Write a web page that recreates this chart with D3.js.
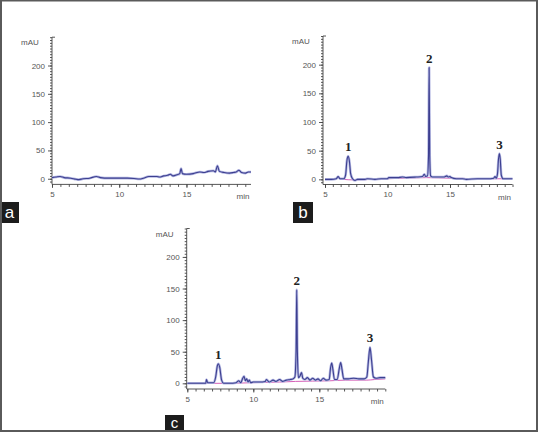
<!DOCTYPE html>
<html>
<head>
<meta charset="utf-8">
<script src="https://cdn.jsdelivr.net/npm/d3@7"></script>
<style>
  body { margin: 0; background: #fff; }
  svg { display: block; }
  .tick-label { font-family: "Liberation Sans", Arial, sans-serif; font-size: 8px; fill: #555; }
  .peak-label { font-family: "Liberation Serif", "Times New Roman", serif; font-size: 13px; font-weight: bold; fill: #222; }
  .panel-letter { font-family: "Liberation Sans", Arial, sans-serif; fill: #fff; }
</style>
</head>
<body>
<div id="chart"></div>
<script>
// chromatogram traces, [time (min), signal (mAU)]
var traceA = [[5.0,2],[5.3,3],[5.6,4],[5.9,2],[6.4,1],[6.8,-1],[7.0,-1.5],[7.3,0],[7.8,1],[8.3,4],[8.6,2],[9.2,1],[10,1],[10.6,1],[11.1,0.5],[11.5,-0.5],[11.8,1],[12.2,4],[12.8,4],[13.0,3],[13.3,5],[13.6,6],[13.8,8],[14.0,5],[14.3,7],[14.5,9],[14.6,18],[14.7,9],[15.0,8],[15.5,9],[16.0,12],[16.3,11],[16.6,13],[17.0,14],[17.15,12],[17.3,23],[17.45,13],[17.8,11],[18.2,10],[18.5,11],[18.7,12],[18.9,15],[19.1,11],[19.4,10],[19.6,12],[19.8,12]];

var traceB = [[5.0,0],[5.5,0],[5.9,1],[6.05,5],[6.2,1],[6.5,1],[6.65,8],[6.75,32],[6.85,40],[6.95,32],[7.05,10],[7.2,1],[7.4,-2],[7.6,0],[8.2,0],[8.4,1],[9.0,0],[9.5,1],[10.0,1],[10.1,3],[10.8,3],[11.2,4],[11.5,3],[12.3,4],[12.8,5],[12.95,9],[13.05,5],[13.2,6],[13.28,40],[13.33,195],[13.38,40],[13.45,6],[13.6,4],[14.5,4],[14.75,6],[14.85,4],[15.0,5],[15.1,3],[15.5,1],[16.0,1],[16.3,0],[17.2,1],[18.0,1],[18.5,2],[18.6,5],[18.7,2],[18.8,10],[18.88,35],[18.95,45],[19.02,35],[19.1,8],[19.25,1],[19.5,1],[20.0,1]];

var traceC = [[5.0,0],[5.5,0],[6.2,0],[6.4,0],[6.45,6],[6.55,1],[7.0,1],[7.15,10],[7.28,28],[7.35,31],[7.45,26],[7.6,5],[7.75,0],[8.2,0],[8.7,1],[8.9,4],[9.05,1],[9.2,8],[9.3,11],[9.4,4],[9.5,7],[9.6,2],[9.7,5],[9.8,1],[10.0,2],[10.5,2],[10.9,3],[11.0,6],[11.2,2],[11.5,5],[11.7,3],[12.0,6],[12.2,3],[12.5,5],[12.8,6],[13.0,7],[13.15,10],[13.24,50],[13.29,148],[13.34,50],[13.42,9],[13.55,12],[13.65,17],[13.75,8],[13.9,6],[14.1,9],[14.3,5],[14.5,8],[14.7,5],[14.9,7],[15.1,4],[15.3,8],[15.5,5],[15.75,6],[15.85,24],[15.94,32],[16.03,22],[16.15,6],[16.35,6],[16.52,24],[16.62,33],[16.72,22],[16.85,7],[17.2,7],[17.6,8],[18.0,7],[18.4,7],[18.6,10],[18.72,35],[18.84,57],[18.95,38],[19.1,10],[19.3,8],[19.6,9],[20.0,9]];

// integration baselines (magenta)
var baseB = [[6.4,0],[7.3,-1],[10.0,1],[13.1,3],[15.0,2],[18.7,1],[19.3,1]];
var baseC = [[6.3,0],[8.0,0],[10.0,1],[12.0,2],[13.2,3],[15.8,4],[17.0,5],[18.6,5],[19.2,6],[20.0,7]];

// peak labels
var peaksB = [{name: "1", t: 6.85, v: 40}, {name: "2", t: 13.33, v: 195}, {name: "3", t: 18.95, v: 45}];
var peaksC = [{name: "1", t: 7.35, v: 31}, {name: "2", t: 13.29, v: 148}, {name: "3", t: 18.84, v: 57}];

var yTicks = [0, 50, 100, 150, 200];
var xTicks = [5, 10, 15];

var W = 538, H = 432;

var svg = d3.select("#chart")
  .append("svg")
    .attr("width", W)
    .attr("height", H);

svg.append("rect")
  .attr("width", W).attr("height", H)
  .attr("fill", "#fff");

// panel layout (pixel positions)
var panels = [
  {trace: traceA, base: null, peaks: [], letter: "a",
   xDom: [5, 19.8], xRange: [52, 251], axisX: 52,
   yDom: [-10, 250], yRange: [184.4, 37.2],
   box: [0, 202, 19, 21], fs: 17, base_y: 16},
  {trace: traceB, base: baseB, peaks: peaksB, letter: "b",
   xDom: [5, 20], xRange: [325, 512.5], axisX: 323,
   yDom: [-9, 250], yRange: [184.5, 36],
   box: [293, 202, 20, 21], fs: 17, base_y: 16},
  {trace: traceC, base: baseC, peaks: peaksC, letter: "c",
   xDom: [5, 20], xRange: [187.3, 385.3], axisX: 186.7,
   yDom: [-9, 245], yRange: [389, 228.5],
   box: [165, 415, 19, 16], fs: 15, base_y: 13}
];

panels.forEach(function(p) {
  var x = d3.scaleLinear().domain(p.xDom).range(p.xRange);
  var y = d3.scaleLinear().domain(p.yDom).range(p.yRange);
  var g = svg.append("g");
  var axisY = p.yRange[0];

  // y axis: minor ticks every 5, major every 50
  var yAxisMinor = d3.axisLeft(y)
    .tickValues(d3.range(-5, p.yDom[1] + 0.1, 5))
    .tickSize(2).tickFormat("");
  var yAxisMajor = d3.axisLeft(y)
    .tickValues(yTicks).tickSize(4).tickFormat(d3.format("d"));

  var gy = g.append("g").attr("transform", "translate(" + p.axisX + ",0)");
  gy.call(yAxisMinor);
  var gy2 = g.append("g").attr("transform", "translate(" + p.axisX + ",0)").call(yAxisMajor);
  gy2.select(".domain").remove();
  gy.select(".domain").attr("d", "M0," + axisY + "V" + p.yRange[1] + "h3");
  gy2.selectAll("text").attr("class", "tick-label").attr("x", -7).attr("fill", null);

  // x axis
  var xMinor = [];
  for (var t = p.xDom[0]; t <= p.xDom[1] + 1e-6; t += 0.625) xMinor.push(t);
  var xAxisMinor = d3.axisBottom(x).tickValues(xMinor).tickSize(2.5).tickFormat("");
  var xAxisMajor = d3.axisBottom(x).tickValues(xTicks).tickSize(3.5).tickFormat(d3.format("d"));
  var gx = g.append("g").attr("transform", "translate(0," + axisY + ")").call(xAxisMinor);
  gx.select(".domain").attr("d", "M" + p.axisX + ",0H" + p.xRange[1]);
  var gx2 = g.append("g").attr("transform", "translate(0," + axisY + ")").call(xAxisMajor);
  gx2.select(".domain").remove();
  gx2.selectAll("text").attr("class", "tick-label").attr("y", 7).attr("fill", null);
  g.selectAll("line, path").attr("stroke", "#444").attr("stroke-width", 0.9);

  g.append("text").attr("class", "tick-label")
    .attr("x", p.xRange[1] - 8).attr("y", axisY + 15)
    .attr("text-anchor", "middle").text("min");
  g.append("text").attr("class", "tick-label")
    .attr("x", p.axisX - 22).attr("y", p.yRange[1] + 8)
    .attr("text-anchor", "middle").text("mAU");

  var line = d3.line()
    .x(function(d) { return x(d[0]); })
    .y(function(d) { return y(d[1]); })
    .curve(d3.curveMonotoneX);

  if (p.base) {
    g.append("path").datum(p.base)
      .attr("d", line).attr("fill", "none")
      .attr("stroke", "#d050b0").attr("stroke-width", 0.9);
  }
  // soft halo + main trace
  g.append("path").datum(p.trace)
    .attr("d", line).attr("fill", "none")
    .attr("stroke", "#b4b8e2").attr("stroke-width", 2.6)
    .attr("stroke-linejoin", "round");
  g.append("path").datum(p.trace)
    .attr("d", line).attr("fill", "none")
    .attr("stroke", "#3d3f90").attr("stroke-width", 1.1)
    .attr("stroke-linejoin", "round");

  g.selectAll(".peak-label")
    .data(p.peaks)
    .enter()
    .append("text")
      .attr("class", "peak-label")
      .attr("x", function(d) { return x(d.t); })
      .attr("y", function(d) { return y(d.v) - 5; })
      .attr("text-anchor", "middle")
      .text(function(d) { return d.name; });

  // panel letter box
  svg.append("rect")
    .attr("x", p.box[0]).attr("y", p.box[1])
    .attr("width", p.box[2]).attr("height", p.box[3])
    .attr("fill", "#1c1c1c");
  svg.append("text").attr("class", "panel-letter")
    .attr("font-size", p.fs)
    .attr("x", p.box[0] + p.box[2] / 2).attr("y", p.box[1] + p.base_y)
    .attr("text-anchor", "middle").text(p.letter);
});

// outer frame
svg.append("path")
  .attr("d", "M1,0.5H537M1,0V432M537,0V432M0,431H538")
  .attr("fill", "none").attr("stroke", "#5a5a5a").attr("stroke-width", 2);
</script>
</body>
</html>
